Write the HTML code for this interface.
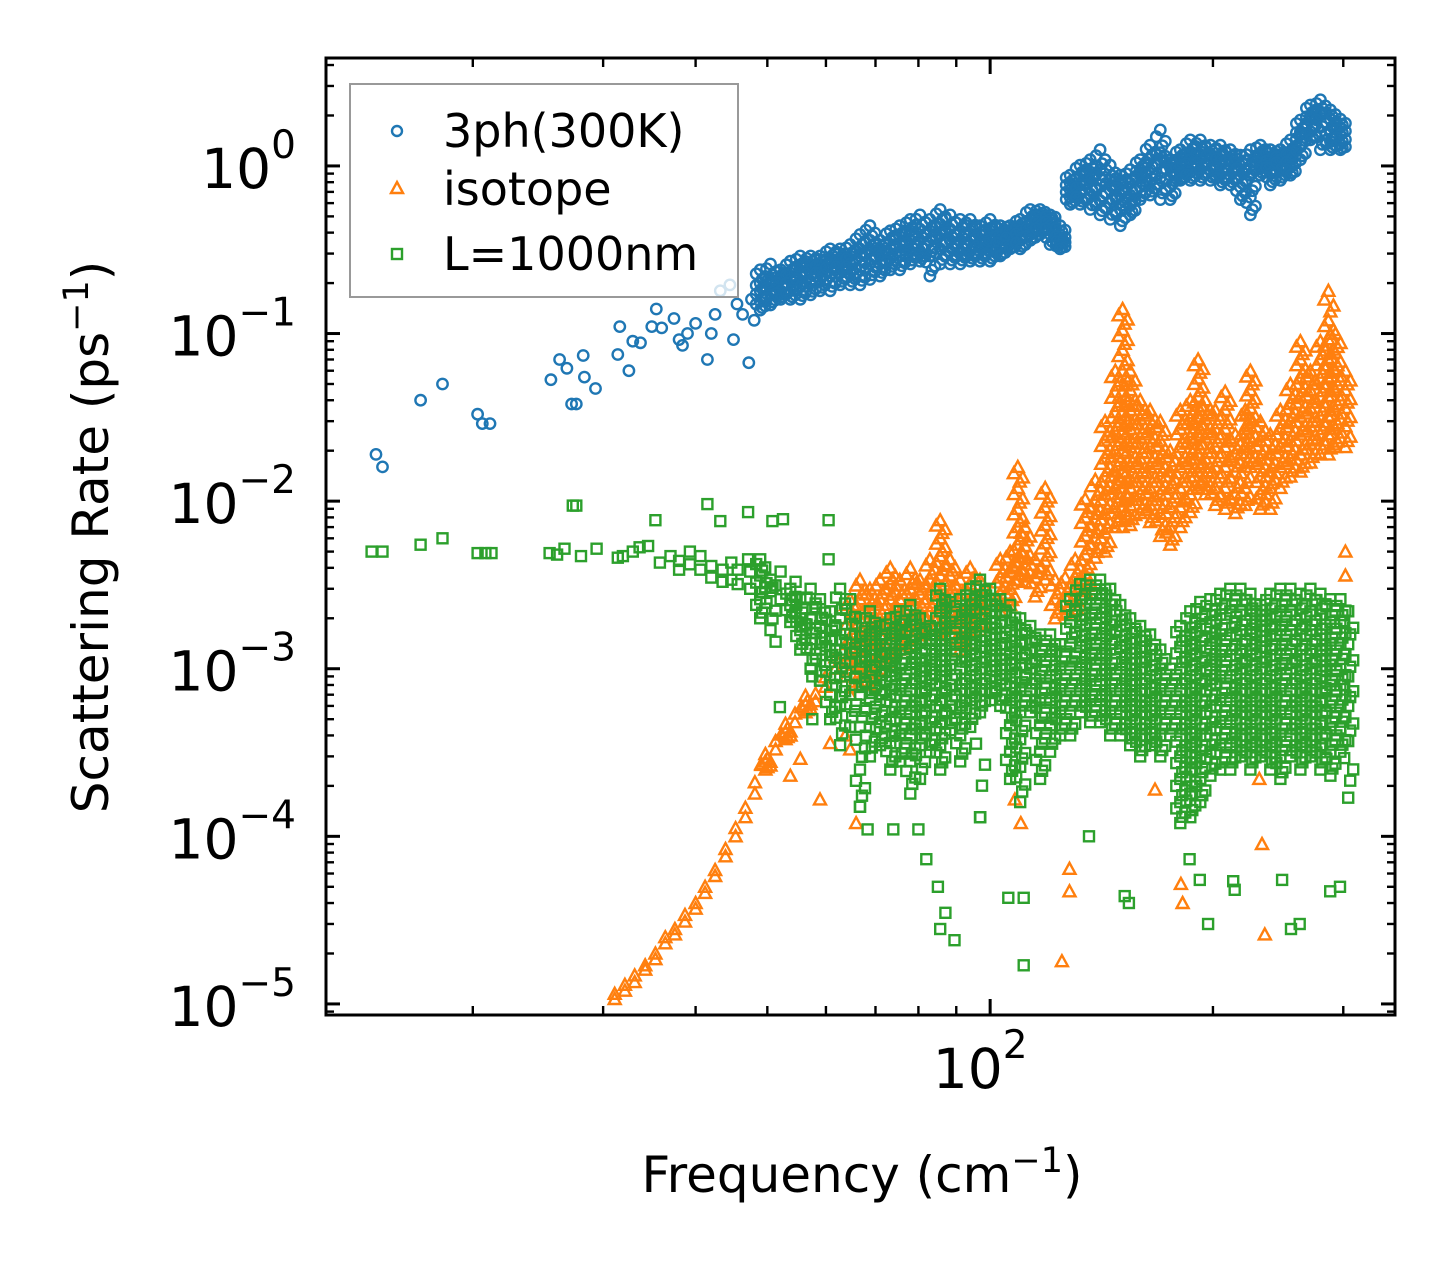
<!DOCTYPE html>
<html><head><meta charset="utf-8"><style>
html,body{margin:0;padding:0;background:#fff}
svg{display:block}
text{font-family:"DejaVu Sans","Liberation Sans",sans-serif;fill:#000}
</style></head><body>
<svg id="chart" width="1455" height="1265" viewBox="0 0 1455 1265" xmlns="http://www.w3.org/2000/svg">
<rect x="0" y="0" width="1455" height="1265" fill="#fff"/>
<g id="marks"></g>
<g id="axes"></g>
<g id="legend">
  <rect x="350" y="84" width="388" height="213" fill="#fff" fill-opacity="0.8" stroke="#999" stroke-width="2"/>
  <g>
    <circle cx="397" cy="131" r="5" fill="none" stroke="#1f77b4" stroke-width="2.4"/>
    <text x="443" y="147" font-size="46">3ph(300K)</text>
  </g>
  <g>
    <polygon points="397,182 403,193 391,193" fill="none" stroke="#ff7f0e" stroke-width="2.4"/>
    <text x="443" y="205" font-size="46">isotope</text>
  </g>
  <g>
    <rect x="392" y="249" width="10" height="10" fill="none" stroke="#2ca02c" stroke-width="2.4"/>
    <text x="443" y="270" font-size="46">L=1000nm</text>
  </g>
</g>
<text transform="translate(108,537) rotate(-90)" text-anchor="middle" font-size="50">Scattering Rate (ps<tspan font-size="35" dy="-20">−1</tspan><tspan dy="20">)</tspan></text>
<text x="862" y="1192" text-anchor="middle" font-size="50">Frequency (cm<tspan font-size="35" dy="-20">−1</tspan><tspan dy="20">)</tspan></text>
</svg>
<script>
// ---- axis domain ----
const xDomainLog = [1.1027, 2.547];
const yDomainLog = [-5.066, 0.644];
const yMajorExp = [0, -1, -2, -3, -4, -5];
const yTickLabels = ["0", "\u22121", "\u22122", "\u22123", "\u22124", "\u22125"];
const xMajorVals = [100];
const xTickLabels = ["2"];
const xMinorVals = [20, 30, 40, 50, 60, 70, 80, 90, 200, 300];

// ---- 3ph(300K) data: frequency (cm^-1) and rates (ps^-1) at that frequency ----
const blueFreq = [14.8,15.1,17,18.2,20.3,20.6,21.1,25.5,26.2,26.8,27.2,27.6,28.2,28.3,29.3,31.4,31.6,32.5,32.9,33.7,34.9,35.4,36,37.4,38,38.4,39,40,41.5,42,42.5,43.2,44.5,45,45.5,46.3,47.2,47.6,48,
48.9,50.5,52.1,53.7,55.4,57.2,58.9,60.8,62.7,64.7,66.7,68.8,71,73.3,75.5,78,80.4,82.9,85.6,88.3,91.1,94,96.9,100,103.2,106.4,109.8,113.3,116.8,120.5,124.3,128.3,132.3,136.5,140.8,145.3,149.9,154.6,159.5,164.5,169.8,175.1,180.7,186.4,192.3,198.4,204.6,211.1,217.8,224.7,231.8,239.1,246.7,254.5,262.5,270.8,279.4,288.2,297.3];
const blueRates = [[0.019],[0.016],[0.04],[0.05],[0.033],[0.029],[0.029],[0.053],[0.07],[0.062],[0.038],[0.038],[0.074],[0.055],[0.047],[0.075],[0.11],[0.06],[0.09],[0.088],[0.11],[0.14],[0.108],[0.123],[0.092],[0.085],[0.1],[0.115],[0.07],[0.1],[0.13],[0.18],[0.195],[0.092],[0.15],[0.13],[0.067],[0.16],[0.12],
[0.24,0.2,0.18,0.155,0.138],[0.26,0.21,0.195,0.17,0.148],[0.24,0.22,0.21,0.18,0.16],[0.27,0.23,0.21,0.18,0.16],[0.29,0.25,0.22,0.19,0.16],[0.29,0.26,0.24,0.2,0.17],[0.29,0.26,0.24,0.21,0.18],[0.32,0.28,0.26,0.22,0.18],[0.32,0.28,0.26,0.23,0.195],[0.34,0.29,0.26,0.23,0.195],[0.39,0.32,0.29,0.24,0.195],[0.44,0.36,0.32,0.26,0.21],[0.36,0.32,0.29,0.26,0.22],[0.41,0.36,0.32,0.28,0.24],[0.44,0.38,0.34,0.29,0.24],[0.48,0.41,0.36,0.31,0.26],[0.51,0.42,0.36,0.31,0.27],[0.48,0.41,0.36,0.29,0.22],[0.55,0.45,0.39,0.32,0.26],[0.51,0.42,0.36,0.31,0.26],[0.48,0.41,0.36,0.31,0.26],[0.48,0.41,0.36,0.31,0.27],[0.44,0.39,0.34,0.31,0.27],[0.48,0.41,0.36,0.31,0.27],[0.44,0.39,0.36,0.32,0.29],[0.44,0.41,0.39,0.34,0.32],[0.48,0.44,0.41,0.36,0.32],[0.55,0.48,0.44,0.39,0.36],[0.55,0.51,0.48,0.44,0.39],[0.51,0.48,0.44,0.39,0.34],[0.44,0.39,0.36,0.34,0.32],[0.88,0.79,0.72,0.65,0.59],[1.01,0.88,0.77,0.68,0.59],[1.09,0.92,0.82,0.68,0.55],[1.25,0.95,0.77,0.62,0.51],[1.01,0.82,0.72,0.6,0.48],[0.88,0.77,0.67,0.55,0.44],[0.95,0.79,0.67,0.58,0.51],[1.09,0.95,0.88,0.75,0.63],[1.33,1.1,0.95,0.8,0.67],[1.64,1.2,1.09,0.85,0.63],[1.09,0.98,0.88,0.75,0.63],[1.25,1.12,1.01,0.9,0.82],[1.43,1.2,1.09,0.92,0.82],[1.43,1.22,1.09,0.95,0.82],[1.33,1.18,1.09,0.95,0.82],[1.33,1.15,1.01,0.88,0.77],[1.25,1.1,1.01,0.88,0.77],[1.16,1.0,0.88,0.75,0.63],[1.25,1.0,0.88,0.65,0.51],[1.33,1.18,1.09,0.98,0.88],[1.25,1.1,1.01,0.9,0.77],[1.25,1.15,1.09,0.95,0.82],[1.43,1.2,1.09,0.98,0.88],[1.88,1.6,1.53,1.3,1.09],[2.31,2.0,1.88,1.6,1.43],[2.48,2.1,2.02,1.6,1.25],[2.16,1.9,1.64,1.4,1.25],[1.9,1.7,1.53,1.35,1.25]];

// ---- isotope data ----
const orangeFreq = [31.1,32.1,33.1,34.2,35.3,36.4,37.5,38.7,40,41.2,42.5,43.9,45.3,46.7,48.1,49.7,51.3,52.9,54.5,56.3,58.1,59.9,61.8,
55.4,53.7,58.9,63.7,64.7,60.8,
64.7,66.7,68.8,71,73.3,75.5,78,80.4,82.9,85.6,88.3,91.1,94,96.9,103.2,106.4,109,111.5,115,118.7,122.4,126.3,130.3,134.4,138.7,143,147.6,151,154.6,159.5,164.5,169.8,175.1,180.7,186.4,191,195.3,201.5,207.8,214.4,221.2,224.7,231.8,239.1,246.7,254.5,262.5,270.8,279.4,286.4,292.8,302,
65.9,108,110,125,128,128,181,182,233,235,302,167,231];
const orangeRates = [[1.07e-5,1.15e-5],[1.2e-5,1.3e-5],[1.48e-5,1.35e-5],[1.7e-5,1.6e-5],[2.0e-5,1.85e-5],[2.3e-5,2.5e-5],[2.8e-5,2.6e-5],[3.4e-5,3.1e-5],[4.0e-5,3.7e-5],[5.0e-5,4.6e-5],[6.3e-5,5.8e-5],[8.4e-5,7.6e-5],[1.12e-4,1.0e-4],[1.48e-4,1.3e-4],[2.1e-4,1.8e-4],[2.8e-4,2.5e-4,3.1e-4],[3.7e-4,3.3e-4],[4.2e-4,3.8e-4,4.7e-4],[5.4e-4,4.8e-4],[6.1e-4,5.5e-4,6.9e-4],[7.1e-4,6.4e-4],[8.9e-4,7.8e-4],[1.17e-3,1.0e-3],
[2.9e-4],[2.3e-4],[1.66e-4],[4e-4],[3.3e-4],[3.6e-4],
[2.6e-3,2e-3,1.5e-3,1.2e-3,1e-3,7e-4],[3.4e-3,2.6e-3,2e-3,1.6e-3,1.2e-3,8e-4],[3e-3,2.3e-3,1.8e-3,1.3e-3,1e-3,8e-4],[3.4e-3,2.6e-3,2e-3,1.6e-3,1.2e-3,1e-3],[4e-3,3.2e-3,2.6e-3,2e-3,1.5e-3,1.1e-3],[3.4e-3,2.6e-3,2e-3,1.6e-3,1.3e-3],[4e-3,3e-3,2.4e-3,1.8e-3,1.4e-3],[3.4e-3,2.8e-3,2.2e-3,1.8e-3,1.5e-3],[4.5e-3,3.4e-3,2.8e-3,2.2e-3,1.7e-3],[7.7e-3,6e-3,4.7e-3,3.6e-3,2.8e-3,2.2e-3,1.5e-3],[4.5e-3,3.6e-3,2.8e-3,2.2e-3,1.8e-3],[3.4e-3,2.6e-3,2e-3,1.6e-3,1.3e-3],[4e-3,3.2e-3,2.5e-3,2e-3,1.7e-3],[3.4e-3,2.7e-3,2.1e-3,1.7e-3],[4.5e-3,3.5e-3,2.8e-3,2.2e-3],[5e-3,3.8e-3,3e-3,2.4e-3],[0.016,0.012,0.009,0.007,0.0055,0.0043,0.0034],[7e-3,5.4e-3,4.2e-3,3.3e-3],[4.5e-3,3.5e-3,2.7e-3],[0.012,0.0092,0.0072,0.0056,0.0044,0.0034],[3.4e-3,2.6e-3,2e-3],[3.5e-3,2.7e-3,2.1e-3],[4.5e-3,3.5e-3,2.7e-3,2.1e-3],[0.0103,0.008,0.0062,0.0048,0.0037,0.0029],[0.0134,0.01,0.0078,0.006,0.0046],[0.03,0.023,0.018,0.014,0.011,0.0084,0.0065,0.005],[0.06,0.045,0.034,0.026,0.02,0.015,0.012,0.0092,0.007],[0.14,0.105,0.08,0.06,0.045,0.034,0.026,0.02,0.015,0.012,0.0092,0.007],[0.06,0.046,0.035,0.027,0.021,0.016,0.012,0.0095,0.0072],[0.04,0.031,0.024,0.018,0.014,0.011,0.0085],[0.035,0.027,0.021,0.016,0.012,0.0095,0.0075],[0.03,0.023,0.018,0.014,0.011,0.0084,0.0062],[0.02,0.015,0.012,0.0092,0.007,0.0055],[0.035,0.027,0.021,0.016,0.012,0.0092,0.007],[0.04,0.031,0.024,0.018,0.014,0.011,0.0086],[0.07,0.054,0.042,0.032,0.025,0.019,0.015,0.012],[0.04,0.031,0.024,0.018,0.014,0.011],[0.035,0.027,0.021,0.016,0.012,0.0095],[0.045,0.035,0.027,0.021,0.016,0.012,0.009],[0.025,0.019,0.015,0.011,0.0085],[0.035,0.027,0.021,0.016,0.012,0.0095],[0.06,0.046,0.036,0.028,0.021,0.016],[0.03,0.023,0.018,0.014,0.011,0.009],[0.025,0.019,0.015,0.012,0.009],[0.035,0.027,0.021,0.016,0.012],[0.05,0.038,0.03,0.023,0.018,0.014],[0.09,0.07,0.054,0.042,0.032,0.025,0.019,0.015],[0.06,0.046,0.036,0.028,0.022,0.017],[0.09,0.07,0.054,0.042,0.032,0.025,0.019],[0.18,0.12,0.092,0.07,0.054,0.042,0.032,0.025,0.019],[0.1,0.077,0.06,0.046,0.035,0.027,0.021],[0.06,0.046,0.036,0.028,0.021],
[1.2e-4],[1.66e-4],[1.2e-4],[1.8e-5],[6.4e-5],[4.7e-5],[5.2e-5],[4e-5],[9e-5],[2.6e-5],[5e-3,3.6e-3],[1.9e-4],[2.2e-4]];

// ---- L=1000nm boundary data ----
const greenFreq = [14.6,15.1,17,18.2,20.3,20.8,21.2,25.4,26,26.6,27.3,27.6,28,29.4,31.4,31.9,32.9,33.6,34.5,35.3,35.8,37,38,39.3,40.6,41.5,42,43.2,43.5,44.7,45.6,47.1,47.4,48.9,50.5,50.8,52.5,52.1,53.7,54.6,51.3,52,57.5,59,60.5,
55.4,57.2,58.9,60.8,62.7,64.7,66.7,68.8,71,73.3,75.5,78,80.4,82.9,85.6,88.3,91.1,94,96.9,100,103.2,106.4,109.8,113.3,116.8,120.5,124.3,128.3,132.3,136.5,140.8,145.3,149.9,154.6,159.5,164.5,169.8,175.1,180.7,186.4,192.3,198.4,204.6,211.1,217.8,224.7,231.8,239.1,246.7,254.5,262.5,270.8,279.4,288.2,297.3,304.6,
85,85.6,87,89.5,82,80,74,66.7,68.3,97,105.8,111,111,136,152,154,186,192,197,213,214,248,255,262,288,297];
const greenRates = [[5e-3],[5e-3],[5.5e-3],[6e-3],[4.9e-3],[4.9e-3],[4.9e-3],[4.9e-3],[4.8e-3],[5.2e-3],[9.4e-3],[9.4e-3],[4.7e-3],[5.2e-3],[4.6e-3],[4.7e-3],[5e-3],[5.3e-3],[5.4e-3],[7.7e-3],[4.3e-3],[4.7e-3],[4.4e-3,3.9e-3],[5e-3,4.2e-3],[4.7e-3,3.9e-3],[9.6e-3],[4.1e-3,3.5e-3],[7.6e-3],[3.9e-3,3.3e-3],[3.4e-3,4.3e-3],[3.9e-3,3.2e-3],[8.6e-3,4.5e-3],[3e-3,3.8e-3],[4.5e-3,3.6e-3,2.6e-3,2e-3],[3.4e-3,2.9e-3,1.7e-3],[7.6e-3],[7.8e-3],[2.6e-3,3.8e-3],[3e-3,2.4e-3,1.9e-3],[2.2e-3,3.3e-3],[1.45e-3],[5.9e-4],[9e-4,5e-4],[8.5e-4],[7.7e-3,4.5e-3],
[2.6e-3,2e-3,1.7e-3,1.3e-3],[3e-3,2e-3,1.5e-3,1e-3],[2.6e-3,1.8e-3,1.3e-3,8.5e-4],[2.2e-3,1.5e-3,1.1e-3,7e-4,5e-4],[3e-3,2e-3,1.3e-3,9e-4,6e-4,3.5e-4],[2.6e-3,1.6e-3,1.1e-3,7e-4,4.5e-4],[2e-3,1.4e-3,1e-3,7e-4,4.5e-4,2.5e-4,1.5e-4],[2.2e-3,1.6e-3,1.2e-3,9e-4,6.5e-4,4.5e-4,3e-4],[1.8e-3,1.4e-3,1.1e-3,8.5e-4,6.5e-4,4.8e-4,3.5e-4],[2e-3,1.5e-3,1.15e-3,9e-4,7e-4,5e-4,3.6e-4,2.5e-4],[2.2e-3,1.7e-3,1.3e-3,1e-3,7.5e-4,5.5e-4,4e-4,2.8e-4],[2.4e-3,1.8e-3,1.35e-3,1e-3,7.5e-4,5.5e-4,4e-4,2.8e-4,1.8e-4],[2e-3,1.5e-3,1.15e-3,9e-4,6.5e-4,4.8e-4,3.5e-4,2.2e-4],[1.8e-3,1.4e-3,1.05e-3,8e-4,6e-4,4.4e-4,3.2e-4],[3e-3,2.2e-3,1.6e-3,1.2e-3,9e-4,6.5e-4,4.8e-4,3.5e-4,2.5e-4],[2.5e-3,1.9e-3,1.4e-3,1.05e-3,8e-4,6e-4,4.3e-4],[2.6e-3,1.9e-3,1.4e-3,1e-3,7.5e-4,5.5e-4,4e-4,2.8e-4],[3e-3,2.2e-3,1.6e-3,1.2e-3,9e-4,6.5e-4,4.5e-4],[3.4e-3,2.5e-3,1.8e-3,1.35e-3,1e-3,7.5e-4,5.5e-4,1.3e-4],[3e-3,2.2e-3,1.6e-3,1.2e-3,9e-4,6.5e-4],[2.6e-3,1.9e-3,1.4e-3,1.05e-3,8e-4,6e-4],[2.4e-3,1.7e-3,1.25e-3,9e-4,6.5e-4,4.6e-4,3.2e-4,2.2e-4],[2e-3,1.45e-3,1.05e-3,7.5e-4,5.5e-4,3.8e-4,2.6e-4,1.6e-4],[1.8e-3,1.3e-3,1e-3,7.5e-4,5.5e-4],[1.6e-3,1.2e-3,9e-4,6.5e-4,4.6e-4,3.2e-4,2.2e-4],[1.6e-3,1.2e-3,9e-4,6.5e-4,4.6e-4,3.2e-4],[1.4e-3,1e-3,7.5e-4,5.5e-4,4e-4],[2.6e-3,1.9e-3,1.4e-3,1e-3,7.5e-4,5.5e-4,4e-4],[3.2e-3,2.4e-3,1.8e-3,1.35e-3,1e-3,7.5e-4,5.5e-4],[3.4e-3,2.6e-3,2e-3,1.5e-3,1.15e-3,8.5e-4,6.5e-4,4.8e-4],[3.4e-3,2.6e-3,2e-3,1.5e-3,1.15e-3,8.5e-4,6.5e-4,4.8e-4],[3e-3,2.2e-3,1.7e-3,1.3e-3,1e-3,7.5e-4,5.5e-4,4e-4],[2.4e-3,1.8e-3,1.35e-3,1e-3,7.5e-4,5.5e-4,4e-4],[2e-3,1.5e-3,1.15e-3,8.5e-4,6.5e-4,4.8e-4,3.5e-4],[1.8e-3,1.35e-3,1e-3,7.5e-4,5.5e-4,4e-4,3e-4],[1.6e-3,1.2e-3,9e-4,6.5e-4,4.8e-4,3.5e-4],[1.3e-3,1e-3,7.5e-4,5.5e-4,4e-4,3e-4],[1e-3,7.5e-4,5.5e-4,4e-4],[1.8e-3,1.35e-3,1e-3,7.5e-4,5.5e-4,4e-4,3e-4,2.2e-4,1.6e-4,1.2e-4],[2.2e-3,1.6e-3,1.2e-3,9e-4,6.5e-4,4.8e-4,3.5e-4,2.5e-4,1.8e-4,1.3e-4],[2.5e-3,1.8e-3,1.35e-3,1e-3,7.5e-4,5.5e-4,4e-4,3e-4,2.2e-4,1.6e-4],[2.6e-3,1.9e-3,1.4e-3,1.05e-3,8e-4,6e-4,4.4e-4,3.2e-4,2.3e-4],[2.8e-3,2.1e-3,1.6e-3,1.2e-3,9e-4,6.5e-4,4.8e-4,3.5e-4,2.5e-4],[3e-3,2.2e-3,1.6e-3,1.2e-3,9e-4,6.5e-4,4.8e-4,3.5e-4,2.5e-4],[3e-3,2.2e-3,1.7e-3,1.3e-3,1e-3,7.5e-4,5.5e-4,4e-4,3e-4],[2.8e-3,2.1e-3,1.6e-3,1.2e-3,9e-4,6.5e-4,4.8e-4,3.5e-4,2.5e-4],[2.4e-3,1.8e-3,1.35e-3,1e-3,7.5e-4,5.5e-4,4e-4,3e-4],[2.8e-3,2.1e-3,1.6e-3,1.2e-3,9e-4,6.5e-4,4.8e-4,3.5e-4,2.5e-4],[3e-3,2.2e-3,1.7e-3,1.3e-3,1e-3,7.5e-4,5.5e-4,4e-4,3e-4,2.2e-4],[3e-3,2.2e-3,1.7e-3,1.3e-3,1e-3,7.5e-4,5.5e-4,4e-4,3e-4],[2.8e-3,2.1e-3,1.6e-3,1.2e-3,9e-4,6.5e-4,4.8e-4,3.5e-4,2.5e-4],[3e-3,2.2e-3,1.7e-3,1.3e-3,1e-3,7.5e-4,5.5e-4,4e-4,3e-4],[2.8e-3,2.1e-3,1.6e-3,1.2e-3,9e-4,6.5e-4,4.8e-4,3.5e-4,2.5e-4],[2.6e-3,1.9e-3,1.4e-3,1.05e-3,8e-4,6e-4,4.4e-4,3.2e-4,2.3e-4],[2.6e-3,1.9e-3,1.4e-3,1.05e-3,8e-4,6e-4,4.4e-4,3.2e-4],[2.2e-3,1.4e-3,9e-4,6e-4,3.7e-4,1.7e-4],
[5e-5],[2.8e-5],[3.5e-5],[2.4e-5],[7.3e-5],[1.1e-4],[1.1e-4],[1.5e-4],[1.1e-4],[1.3e-4],[4.3e-5],[4.3e-5],[1.7e-5],[1e-4],[4.4e-5],[4e-5],[7.3e-5],[5.5e-5],[3e-5],[5.4e-5],[4.8e-5],[5.5e-5],[2.8e-5],[3e-5],[4.7e-5],[5e-5]];

// ---- scales ----
const PX = {left: 326, right: 1395, top: 58, bottom: 1015};
function xScale(f) { return PX.left + (Math.log10(f) - xDomainLog[0]) / (xDomainLog[1] - xDomainLog[0]) * (PX.right - PX.left); }
function yScale(r) { return PX.bottom - (Math.log10(r) - yDomainLog[0]) / (yDomainLog[1] - yDomainLog[0]) * (PX.bottom - PX.top); }

const NS = "http://www.w3.org/2000/svg";
const marks = document.getElementById('marks');
const axes = document.getElementById('axes');
function mk(tag, attrs, parent) {
  const e = document.createElementNS(NS, tag);
  for (const k in attrs) e.setAttribute(k, attrs[k]);
  parent.appendChild(e);
  return e;
}

const defs = mk('defs', {}, document.getElementById('chart'));
const cp = mk('clipPath', {id: 'plotclip'}, defs);
mk('rect', {x: PX.left, y: PX.top, width: PX.right - PX.left, height: PX.bottom - PX.top}, cp);
marks.setAttribute('clip-path', 'url(#plotclip)');

function marker(kind, x, y, g, name, op) {
  let e;
  if (kind === 'circle') {
    e = mk('circle', {cx: x.toFixed(1), cy: y.toFixed(1), r: 5.2, fill: 'none', stroke: '#1f77b4', 'stroke-width': 2.4}, g);
  } else if (kind === 'tri') {
    e = mk('polygon', {points: `${x.toFixed(1)},${(y-6).toFixed(1)} ${(x+6).toFixed(1)},${(y+5).toFixed(1)} ${(x-6).toFixed(1)},${(y+5).toFixed(1)}`, fill: 'none', stroke: '#ff7f0e', 'stroke-width': 2.4}, g);
  } else {
    e = mk('rect', {x: (x-5).toFixed(1), y: (y-5).toFixed(1), width: 10, height: 10, fill: 'none', stroke: '#2ca02c', 'stroke-width': 2.4}, g);
  }
  if (op) e.setAttribute('opacity', op);
  
  
}

function drawSeries(freqs, rates, kind, name) {
  const g = mk('g', {}, marks);
  
  
  for (let i = 0; i < freqs.length; i++) {
    const x = xScale(freqs[i]);
    const rs = rates[i];
    for (let j = 0; j < rs.length; j++) {
      const y = yScale(rs[j]);
      marker(kind, x, y, g, name + '-point');
      // dense columns: overplot staggered fill between neighbouring samples
      if (rs.length >= 3 && j < rs.length - 1) {
        const y2 = yScale(rs[j + 1]);
        marker(kind, x + 5, (y + y2) / 2, g, name + '-point-fill');
        marker(kind, x - 4, y + (y2 - y) * 0.3, g, name + '-point-fill');
        marker(kind, x + 2, y + (y2 - y) * 0.7, g, name + '-point-fill');
      }
    }
  }
}
drawSeries(blueFreq, blueRates, 'circle', '3ph');
drawSeries(orangeFreq, orangeRates, 'tri', 'isotope');
drawSeries(greenFreq, greenRates, 'square', 'boundary');

const frame = mk('rect', {x: PX.left, y: PX.top, width: PX.right - PX.left, height: PX.bottom - PX.top, fill: 'none', stroke: '#000', 'stroke-width': 3}, axes);



for (let i = 0; i < yMajorExp.length; i++) {
  const e = yMajorExp[i];
  const y = yScale(Math.pow(10, e));
  const t1 = mk('line', {x1: PX.left, x2: PX.left + 14, y1: y, y2: y, stroke: '#000', 'stroke-width': 3}, axes);
  
  
  const t2 = mk('line', {x1: PX.right, x2: PX.right - 14, y1: y, y2: y, stroke: '#000', 'stroke-width': 3}, axes);
  
  
  const lab = mk('text', {x: 296, y: y + 22, 'text-anchor': 'end', 'font-size': 55}, axes);
  
  
  lab.appendChild(document.createTextNode('10'));
  const sup = mk('tspan', {'font-size': 39, dy: -30}, lab);
  sup.textContent = yTickLabels[i];
}
for (let e = -6; e <= 0; e++) {
  for (let m = 2; m <= 9; m++) {
    const v = m * Math.pow(10, e);
    const lv = Math.log10(v);
    if (lv < yDomainLog[0] || lv > yDomainLog[1]) continue;
    const y = yScale(v);
    const a = mk('line', {x1: PX.left, x2: PX.left + 8, y1: y, y2: y, stroke: '#000', 'stroke-width': 2.4}, axes);
    
    
    const b = mk('line', {x1: PX.right, x2: PX.right - 8, y1: y, y2: y, stroke: '#000', 'stroke-width': 2.4}, axes);
    
    
  }
}
for (let i = 0; i < xMajorVals.length; i++) {
  const x = xScale(xMajorVals[i]);
  const a = mk('line', {x1: x, x2: x, y1: PX.bottom, y2: PX.bottom - 16, stroke: '#000', 'stroke-width': 3}, axes);
  
  
  const b = mk('line', {x1: x, x2: x, y1: PX.top, y2: PX.top + 16, stroke: '#000', 'stroke-width': 3}, axes);
  
  
  const lab = mk('text', {x: x - 10, y: 1088, 'text-anchor': 'middle', 'font-size': 55}, axes);
  
  
  lab.appendChild(document.createTextNode('10'));
  const sup = mk('tspan', {'font-size': 39, dy: -30}, lab);
  sup.textContent = xTickLabels[i];
}
for (let i = 0; i < xMinorVals.length; i++) {
  const x = xScale(xMinorVals[i]);
  const a = mk('line', {x1: x, x2: x, y1: PX.bottom, y2: PX.bottom - 9, stroke: '#000', 'stroke-width': 2.4}, axes);
  
  
  const b = mk('line', {x1: x, x2: x, y1: PX.top, y2: PX.top + 9, stroke: '#000', 'stroke-width': 2.4}, axes);
  
  
}
</script>
</body></html>
